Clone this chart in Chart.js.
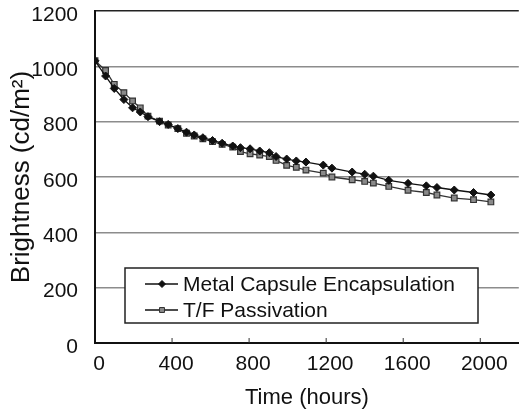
<!DOCTYPE HTML>
<html>
<head>
    <title>Brightness vs time</title>
    <meta http-equiv="Content-Type" content="text/html; charset=UTF-8" />
    <script src="https://cdn.jsdelivr.net/npm/chart.js@4/dist/chart.umd.min.js"></script>
    <style type="text/css">
        html, body { margin: 0; padding: 0; background: #fff; }
        .chart-wrapper { width: 524px; height: 414px; }
    </style>
</head>
<body>
    <div class="chart-wrapper"><canvas id="myChart"></canvas></div>
<script type="text/javascript">
    // hours at which brightness was measured
    let hours = [0, 55, 100, 150, 195, 235, 275, 335, 380, 430, 475, 515, 560, 610, 660, 715, 755, 805,
        855, 905, 940, 995, 1045, 1095, 1185, 1230, 1335, 1400, 1445, 1525, 1625, 1720, 1775, 1865, 1965, 2055];
    let metalCapsule = [1020, 965, 920, 880, 850, 835, 818, 800, 790, 775, 762, 752, 742, 732, 722, 712, 706, 702,
        694, 688, 674, 665, 658, 654, 643, 632, 618, 610, 603, 588, 577, 568, 562, 553, 544, 535];
    let tfPassivation = [1020, 985, 935, 905, 875, 850, 820, 802, 788, 775, 758, 748, 738, 728, 718, 708, 692, 684,
        679, 674, 660, 642, 635, 625, 614, 600, 590, 584, 578, 566, 552, 544, 535, 524, 518, 510];
    let xTicks = [0, 400, 800, 1200, 1600, 2000];
    let yTicks = [0, 200, 400, 600, 800, 1000, 1200];
    let labels = ['Metal Capsule Encapsulation', 'T/F Passivation'];

    const FONT = "'Liberation Sans', Arial, sans-serif";

    function pairs(ys) {
        return hours.map((h, i) => ({ x: h, y: ys[i] }));
    }

    // framed legend inside the plot + small inward ticks on the time axis
    const boxLegend = {
        id: 'boxLegend',
        afterDatasetsDraw(chart) {
            const ctx = chart.ctx;
            const area = chart.chartArea;
            const xs = chart.scales.x;
            ctx.save();
            ctx.strokeStyle = '#333';
            ctx.lineWidth = 1;
            xTicks.slice(1).forEach(v => {
                const px = xs.getPixelForValue(v);
                ctx.beginPath();
                ctx.moveTo(px, area.bottom);
                ctx.lineTo(px, area.bottom - 5);
                ctx.stroke();
            });

            const left = area.left + 30, top = area.top + 257, w = 353, h = 55;
            ctx.fillStyle = '#fff';
            ctx.fillRect(left, top, w, h);
            ctx.strokeStyle = '#222';
            ctx.lineWidth = 1.5;
            ctx.strokeRect(left, top, w, h);
            ctx.font = '21px ' + FONT;
            ctx.textBaseline = 'middle';
            chart.data.datasets.forEach((ds, i) => {
                const y = top + 16 + i * 26;
                ctx.strokeStyle = '#111';
                ctx.lineWidth = 1.3;
                ctx.beginPath();
                ctx.moveTo(left + 20, y);
                ctx.lineTo(left + 53, y);
                ctx.stroke();
                ctx.fillStyle = ds.pointBackgroundColor;
                ctx.strokeStyle = ds.pointBorderColor;
                ctx.lineWidth = 1;
                Chart.helpers.drawPoint(ctx, {
                    pointStyle: ds.pointStyle, radius: 3.5, borderWidth: 1
                }, left + 37, y);
                ctx.fillStyle = '#111';
                ctx.fillText(ds.label, left + 58, y + 1);
            });
            ctx.restore();
        }
    };

    let ctx = document.getElementById('myChart').getContext('2d');
    let myChart = new Chart(ctx, {
        type: 'line',
        data: {
            datasets: [{
                label: labels[0],
                data: pairs(metalCapsule),
                borderColor: '#111',
                borderWidth: 1.3,
                pointStyle: 'rectRot',
                pointRadius: 4,
                pointBackgroundColor: '#111',
                pointBorderColor: '#111',
                pointBorderWidth: 1,
                tension: 0
            }, {
                label: labels[1],
                data: pairs(tfPassivation),
                borderColor: '#333',
                borderWidth: 1.3,
                pointStyle: 'rect',
                pointRadius: 4,
                pointBackgroundColor: '#8a8a8a',
                pointBorderColor: '#333',
                pointBorderWidth: 1.2,
                tension: 0
            }]
        },
        options: {
            responsive: true,
            maintainAspectRatio: false,
            animation: false,
            layout: { padding: { top: 11, right: 0, left: 0, bottom: 0 } },
            plugins: {
                legend: { display: false },
                tooltip: { enabled: false }
            },
            scales: {
                x: {
                    type: 'linear',
                    min: 0,
                    max: 2200,
                    afterBuildTicks: (scale) => { scale.ticks = xTicks.map(v => ({ value: v })); },
                    afterFit: (scale) => {
                        scale.height = 71;
                        scale.paddingLeft = 0;
                        scale.paddingRight = 0;
                    },
                    grid: { display: false, drawTicks: false },
                    border: { display: true, color: '#111', width: 2 },
                    ticks: {
                        color: '#111',
                        padding: 9,
                        labelOffset: 4,
                        maxRotation: 0,
                        callback: (v) => String(v),
                        font: { family: FONT, size: 21 }
                    },
                    title: {
                        display: true,
                        text: 'Time (hours)',
                        color: '#111',
                        padding: { top: 0, bottom: 3 },
                        font: { family: FONT, size: 22 }
                    }
                },
                y: {
                    min: 0,
                    max: 1200,
                    afterBuildTicks: (scale) => { scale.ticks = yTicks.map(v => ({ value: v })); },
                    afterFit: (scale) => {
                        scale.width = 95;
                        scale.paddingTop = 0;
                        scale.paddingBottom = 0;
                    },
                    grid: {
                        drawTicks: false,
                        color: (c) => c.tick && c.tick.value === 1200 ? '#222' : '#8c8c8c',
                        lineWidth: 1.5
                    },
                    border: { display: true, color: '#111', width: 2 },
                    ticks: {
                        color: '#111',
                        padding: 17,
                        labelOffset: 4,
                        callback: (v) => String(v),
                        font: { family: FONT, size: 21 }
                    },
                    title: {
                        display: true,
                        text: 'Brightness (cd/m\u00B2)',
                        color: '#111',
                        padding: { top: 6, bottom: 0 },
                        font: { family: FONT, size: 26 }
                    }
                }
            }
        },
        plugins: [boxLegend]
    });
</script>
</body>
</html>
